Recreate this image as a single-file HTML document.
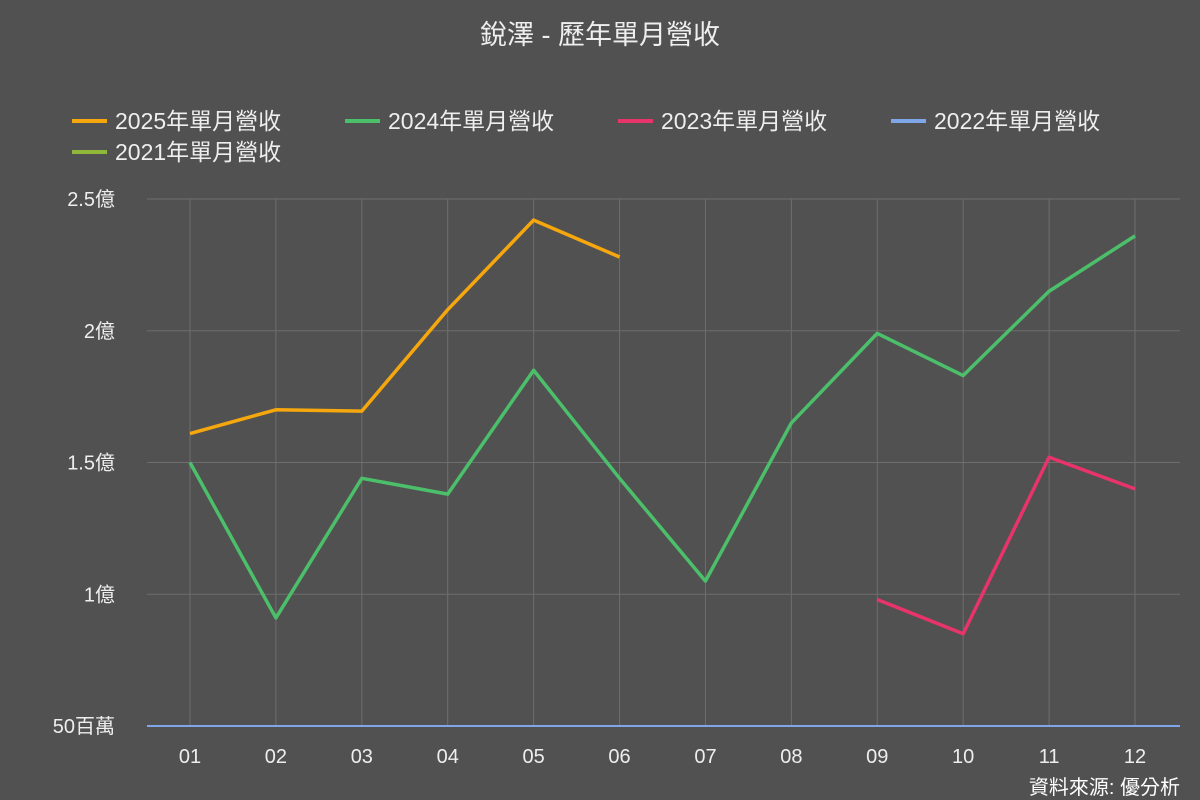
<!DOCTYPE html>
<html><head><meta charset="utf-8">
<style>
html,body{margin:0;padding:0;background:#515151;}
svg{display:block;font-family:"Liberation Sans","Noto Sans CJK TC",sans-serif;}
</style></head>
<body>
<svg id="chart" width="1200" height="800" xmlns="http://www.w3.org/2000/svg">
<rect width="1200" height="800" fill="#515151"/>
<text x="600" y="44" text-anchor="middle" font-size="27" fill="#eeeeee">銳澤 - 歷年單月營收</text>
<g id="legend"></g>
<g id="grid"></g>
<g id="series"></g>
<text x="1180" y="794" text-anchor="end" font-size="20" fill="#ffffff">資料來源: 優分析</text>
</svg>
<script>
const categories=["01","02","03","04","05","06","07","08","09","10","11","12"];
const yTicks=[0.5,1,1.5,2,2.5];
const yTickLabels=["50百萬","1億","1.5億","2億","2.5億"];
const s2025=[1.61,1.70,1.695,2.08,2.42,2.28,null,null,null,null,null,null];
const s2024=[1.50,0.91,1.44,1.38,1.85,1.44,1.05,1.65,1.99,1.83,2.15,2.36];
const s2023=[null,null,null,null,null,null,null,null,0.98,0.85,1.52,1.40];
const s2022=[0.5,0.5,0.5,0.5,0.5,0.5,0.5,0.5,0.5,0.5,0.5,0.5];
const s2021=[null,null,null,null,null,null,null,null,null,null,null,null];
const seriesNames=["2025年單月營收","2024年單月營收","2023年單月營收","2022年單月營收","2021年單月營收"];

const NS="http://www.w3.org/2000/svg";
const L=147,R=1180,T=199,B=726,yMin=0.5,yMax=2.5;
const x0=190,x1=1135;
function xs(i){return x0+(x1-x0)*i/(categories.length-1);}
function ys(v){return B-(v-yMin)/(yMax-yMin)*(B-T);}
function mk(tag,attrs,parent){const e=document.createElementNS(NS,tag);for(const k in attrs)e.setAttribute(k,attrs[k]);parent.appendChild(e);return e;}
const grid=document.getElementById('grid');
yTicks.forEach((v,i)=>{
  const ln=mk('line',{x1:L,x2:R,y1:ys(v),y2:ys(v),stroke:'#6e6e6e','stroke-width':1},grid);
  
  
  const t=mk('text',{x:115,y:ys(v)+7,'text-anchor':'end','font-size':20,fill:'#eeeeee'},grid);
  t.textContent=yTickLabels[i];
  
  
});
categories.forEach((c,i)=>{
  const ln=mk('line',{x1:xs(i),x2:xs(i),y1:T,y2:B,stroke:'#6e6e6e','stroke-width':1},grid);
  
  
  const t=mk('text',{x:xs(i),y:763,'text-anchor':'middle','font-size':20,fill:'#eeeeee'},grid);
  t.textContent=c;
  
  
});
const sg=document.getElementById('series');
const data=[s2025,s2024,s2023,s2022,s2021];
const colors=["#f5a70d","#4cbf6b","#e8336b","#7fa6e8","#8fb83a"];
// 2022 series sits at the axis minimum: drawn as thin line spanning the plot
{
  const allMin=s2022.every(v=>v!=null&&v<=yMin);
  if(allMin){
    const p=mk('line',{x1:L,x2:R,y1:ys(yMin),y2:ys(yMin),stroke:colors[3],'stroke-width':2},sg);
    
    
  }
}
const order=[4,2,1,0];
order.forEach(k=>{
  let segs=[],cur=[];
  data[k].forEach((v,i)=>{if(v==null){if(cur.length)segs.push(cur);cur=[];}else cur.push(xs(i)+','+ys(v));});
  if(cur.length)segs.push(cur);
  segs.forEach(s=>{
    const p=mk('polyline',{points:s.join(' '),fill:'none',stroke:colors[k],'stroke-width':3.5,'stroke-linejoin':'round'},sg);
    
    
  });
});
const lg=document.getElementById('legend');
const lpos=[[72,121],[345,121],[618,121],[891,121],[72,152]];
seriesNames.forEach((n,k)=>{
  const [x,y]=lpos[k];
  const g=mk('g',{},lg);
  
  
  mk('line',{x1:x,x2:x+35,y1:y,y2:y,stroke:colors[k],'stroke-width':4},g);
  const t=mk('text',{x:x+43,y:y+8,'font-size':23,fill:'#eeeeee'},g);
  t.textContent=n;
});
</script>
</body></html>
